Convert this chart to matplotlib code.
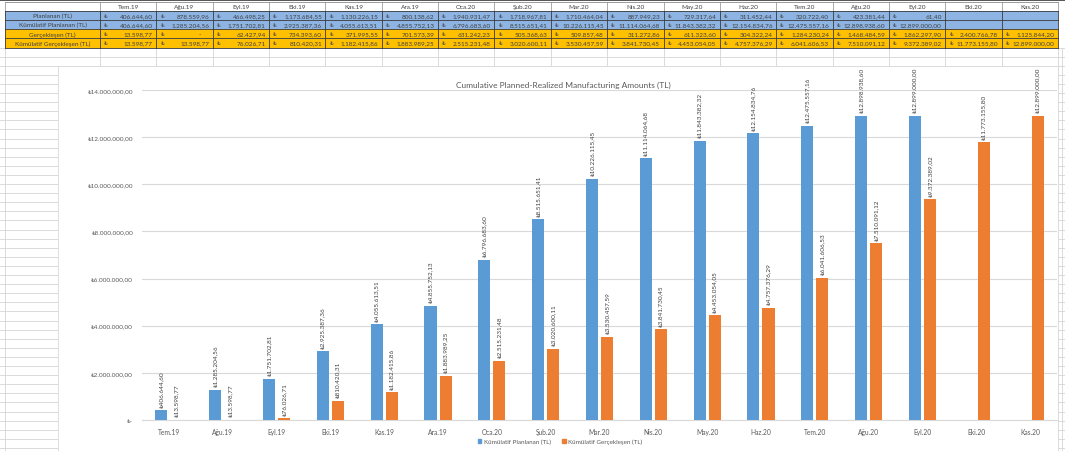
import numpy as np
import matplotlib
matplotlib.use("Agg")
import matplotlib.pyplot as plt
from matplotlib.patches import Rectangle, Patch
from matplotlib.ticker import FuncFormatter

# ---------------- data ----------------
months = ["Tem.19", "Ağu.19", "Eyl.19", "Eki.19", "Kas.19", "Ara.19", "Oca.20",
          "Şub.20", "Mar.20", "Nis.20", "May.20", "Haz.20", "Tem.20", "Ağu.20",
          "Eyl.20", "Eki.20", "Kas.20"]
planned = [406644.60, 878559.96, 466498.25, 1173684.55, 1130226.15, 800138.62,
           1940931.47, 1718967.81, 1710464.04, 887949.23, 729317.64, 311452.44,
           320722.40, 423381.44, 61.40, None, None]
cum_planned = [406644.60, 1285204.56, 1751702.81, 2925387.36, 4055613.51,
               4855752.13, 6796683.60, 8515651.41, 10226115.45, 11114064.68,
               11843382.32, 12154834.76, 12475557.16, 12898938.60, 12899000.00,
               None, None]
realized = [13598.77, 0.0, 62427.94, 734393.60, 371995.55, 701573.39, 631242.23,
            505368.63, 509857.48, 311272.86, 611323.60, 304322.24, 1284230.24,
            1468484.59, 1862297.90, 2400766.78, 1125844.20]
cum_realized = [13598.77, 13598.77, 76026.71, 810420.31, 1182415.86, 1883989.25,
                2515231.48, 3020600.11, 3530457.59, 3841730.45, 4453054.05,
                4757376.29, 6041606.53, 7510091.12, 9372389.02, 11773155.80,
                12899000.00]
row_labels = ["Planlanan (TL)", "Kümülatif Planlanan (TL)", "Gerçekleşen (TL)",
              "Kümülatif Gerçekleşen (TL)"]
series_labels = ["Kümülatif Planlanan (TL)", "Kümülatif Gerçekleşen (TL)"]
title = "Cumulative Planned-Realized Manufacturing Amounts (TL)"

FONT = ["Lato", "DejaVu Sans"]
plt.rcParams["font.family"] = FONT

BLUE = "#5B9BD5"
ORANGE = "#ED7D31"
TXT = "#595959"


def fmt_tr(v):
    s = f"{v:,.2f}"
    return s.replace(",", "X").replace(".", ",").replace("X", ".")


W, H = 1065, 452
fig = plt.figure(figsize=(W / 100, H / 100), dpi=100)
fig.patch.set_facecolor("white")

# ---------------- spreadsheet background ----------------
bg = fig.add_axes([0, 0, 1, 1])
bg.set_xlim(0, W)
bg.set_ylim(H, 0)
bg.axis("off")

row_h = 9.1
y0 = 3.0
col_w = 56.35
col_left = 100.0
col_x = [5.0] + [col_left + col_w * i for i in range(len(months) + 1)]
grid_c = "#D4D4D4"

# grid rows below the table
ygrid = y0 + row_h * np.arange(5, 60)
for yy in ygrid:
    if yy > H:
        break
    bg.plot([0, W], [yy, yy], color=grid_c, lw=0.6, zorder=1)
for xx in col_x + [1062]:
    bg.plot([xx, xx], [y0 + 5 * row_h, H], color=grid_c, lw=0.6, zorder=1)

# table
fills = ["#8DB4E2", "#8DB4E2", "#FFC000", "#FFC000"]
table_rows = [planned, cum_planned, realized, cum_realized]
fs_t = 4.6
bg.plot([0, W], [1.2, 1.2], color="#555555", lw=1.4, zorder=3)
for c, m in enumerate(months):
    xl = col_x[c + 1]
    bg.text(xl + col_w / 2, y0 + row_h / 2, m, ha="center", va="center",
            fontsize=fs_t, color="#404040", zorder=4)
for xx in col_x:
    bg.plot([xx, xx], [y0, y0 + row_h], color="#8A8A8A", lw=0.5, zorder=3)
for r in range(4):
    yt = y0 + row_h * (r + 1)
    bg.add_patch(Rectangle((col_x[0], yt), col_x[-1] - col_x[0], row_h,
                           fc=fills[r], ec="none", zorder=2))
    bg.text((col_x[0] + col_x[1]) / 2, yt + row_h / 2, row_labels[r],
            ha="center", va="center", fontsize=fs_t, color="#404040", zorder=4)
    for c, v in enumerate(table_rows[r]):
        xl = col_x[c + 1]
        xr = col_x[c + 2]
        if v is None:
            continue
        bg.text(xl + 4, yt + row_h / 2, "₺", ha="left", va="center",
                fontsize=fs_t, color="#404040", zorder=4)
        s = "-" if v == 0 else fmt_tr(v)
        bg.text(xr - (12 if v == 0 else 3.5), yt + row_h / 2, s, ha="right",
                va="center", fontsize=fs_t, color="#404040", zorder=4)
for k in range(6):
    yy = y0 + row_h * k
    bg.plot([col_x[0], col_x[-1]], [yy, yy], color="#3A3A3A" if k else "#8A8A8A",
            lw=0.6, zorder=3)
for xx in col_x:
    bg.plot([xx, xx], [y0 + row_h, y0 + 5 * row_h], color="#3A3A3A", lw=0.6,
            zorder=3)

# chart area
bg.add_patch(Rectangle((58, y0 + 7 * row_h), 1000, H - (y0 + 7 * row_h) + 2,
                       fc="white", ec="#D9D9D9", lw=0.6, zorder=5))
fig.text(563 / W, 1 - 85 / H, title, ha="center", va="center", fontsize=6,
         color=TXT)

# ---------------- chart ----------------
ax = fig.add_axes([142 / W, (H - 421) / H, 915 / W, 330 / H])
ax.set_facecolor("none")
x = np.arange(len(months))
off = 0.14
bw = 0.225

idx_p = [i for i, v in enumerate(cum_planned) if v is not None]
vals_p = [cum_planned[i] for i in idx_p]
ax.bar(x[idx_p] - off, vals_p, bw, color=BLUE, zorder=3)
ax.bar(x + off, cum_realized, bw, color=ORANGE, zorder=3)

for i, v in zip(idx_p, vals_p):
    ax.annotate("₺" + fmt_tr(v), (x[i] - off, v), xytext=(0, 2.5),
                textcoords="offset points", rotation=90, ha="center",
                va="bottom", fontsize=4.6, color="#404040",
                annotation_clip=False)
for i, v in enumerate(cum_realized):
    ax.annotate("₺" + fmt_tr(v), (x[i] + off, v), xytext=(0, 2.5),
                textcoords="offset points", rotation=90, ha="center",
                va="bottom", fontsize=4.6, color="#404040",
                annotation_clip=False)

ax.set_xlim(-0.5, len(months) - 0.5)
ax.set_ylim(0, 14e6)
ax.set_yticks(np.arange(0, 14e6 + 1, 2e6))
ax.yaxis.set_major_formatter(
    FuncFormatter(lambda v, _: "₺-" if v == 0 else "₺" + fmt_tr(v)))
ax.set_xticks(x)
ax.set_xticklabels(months)
ax.tick_params(axis="y", length=0, pad=6.5, labelsize=4.6, labelcolor=TXT)
ax.tick_params(axis="x", length=0, pad=5.5, labelsize=4.8, labelcolor=TXT)
ax.grid(axis="y", color="#D9D9D9", lw=0.8, zorder=0)
ax.set_axisbelow(True)
for s in ["top", "right", "left"]:
    ax.spines[s].set_visible(False)
ax.spines["bottom"].set_color("#D9D9D9")
ax.spines["bottom"].set_linewidth(0.8)

handles = [Patch(color=BLUE), Patch(color=ORANGE)]
fig.legend(handles, series_labels, loc="center",
           bbox_to_anchor=(560 / W, 1 - 442 / H), ncol=2, frameon=False,
           fontsize=4.5, handlelength=0.6, handleheight=0.6,
           handletextpad=0.4, columnspacing=1.8, labelcolor=TXT)

fig.savefig("out.png", dpi=100, facecolor="white")
